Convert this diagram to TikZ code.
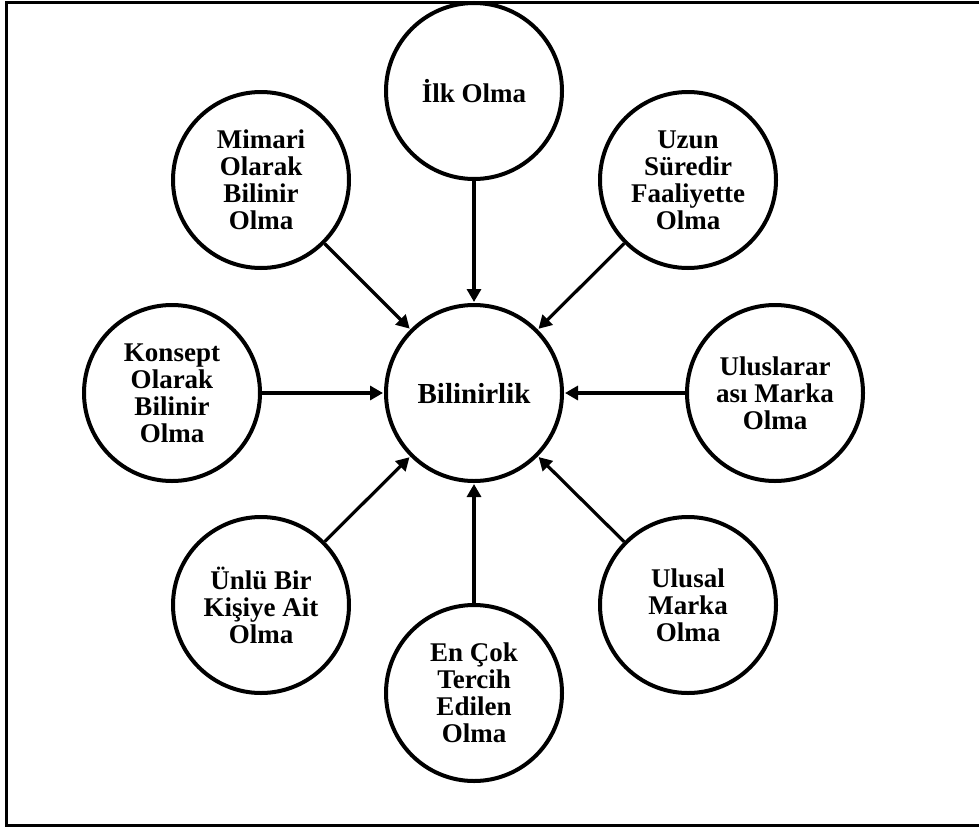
\documentclass[tikz,border=0pt]{standalone}
\usepackage{fontspec}
\setmainfont{Liberation Serif}
\usetikzlibrary{arrows.meta}
\begin{document}
\begin{tikzpicture}[x=1pt,y=-1pt,
  bubble/.style={circle,draw=black,line width=4pt,minimum size=176pt,inner sep=0pt,align=center,
    font=\bfseries\fontsize{27}{27}\selectfont},
  hub/.style={bubble,font=\bfseries\fontsize{29}{32}\selectfont},
  link/.style={line width=3.2pt,-{Triangle[length=13pt,width=14pt]},shorten >=1pt}]
\useasboundingbox (0,0) rectangle (979,827);
\clip (0,0) rectangle (979,827);
\draw[line width=3pt] (6,2) rectangle (990,825);
\node[hub] (c) at (474,393) {Bilinirlik};
\node[bubble] (n) at (474,91) {İlk Olma};
\node[bubble] (nw) at (261,180) {Mimari\\Olarak\\Bilinir\\Olma};
\node[bubble] (ne) at (688,180) {Uzun\\Süredir\\Faaliyette\\Olma};
\node[bubble] (w) at (172,393) {Konsept\\Olarak\\Bilinir\\Olma};
\node[bubble] (e) at (775,393) {Uluslarar\\ası Marka\\Olma};
\node[bubble] (sw) at (261,605) {Ünlü Bir\\Kişiye Ait\\Olma};
\node[bubble] (se) at (688,605) {Ulusal\\Marka\\Olma};
\node[bubble] (s) at (474,693) {En Çok\\Tercih\\Edilen\\Olma};
\foreach \k in {n,nw,ne,w,e,sw,se,s}
  \draw[link] (\k) -- (c);
\end{tikzpicture}
\end{document}
